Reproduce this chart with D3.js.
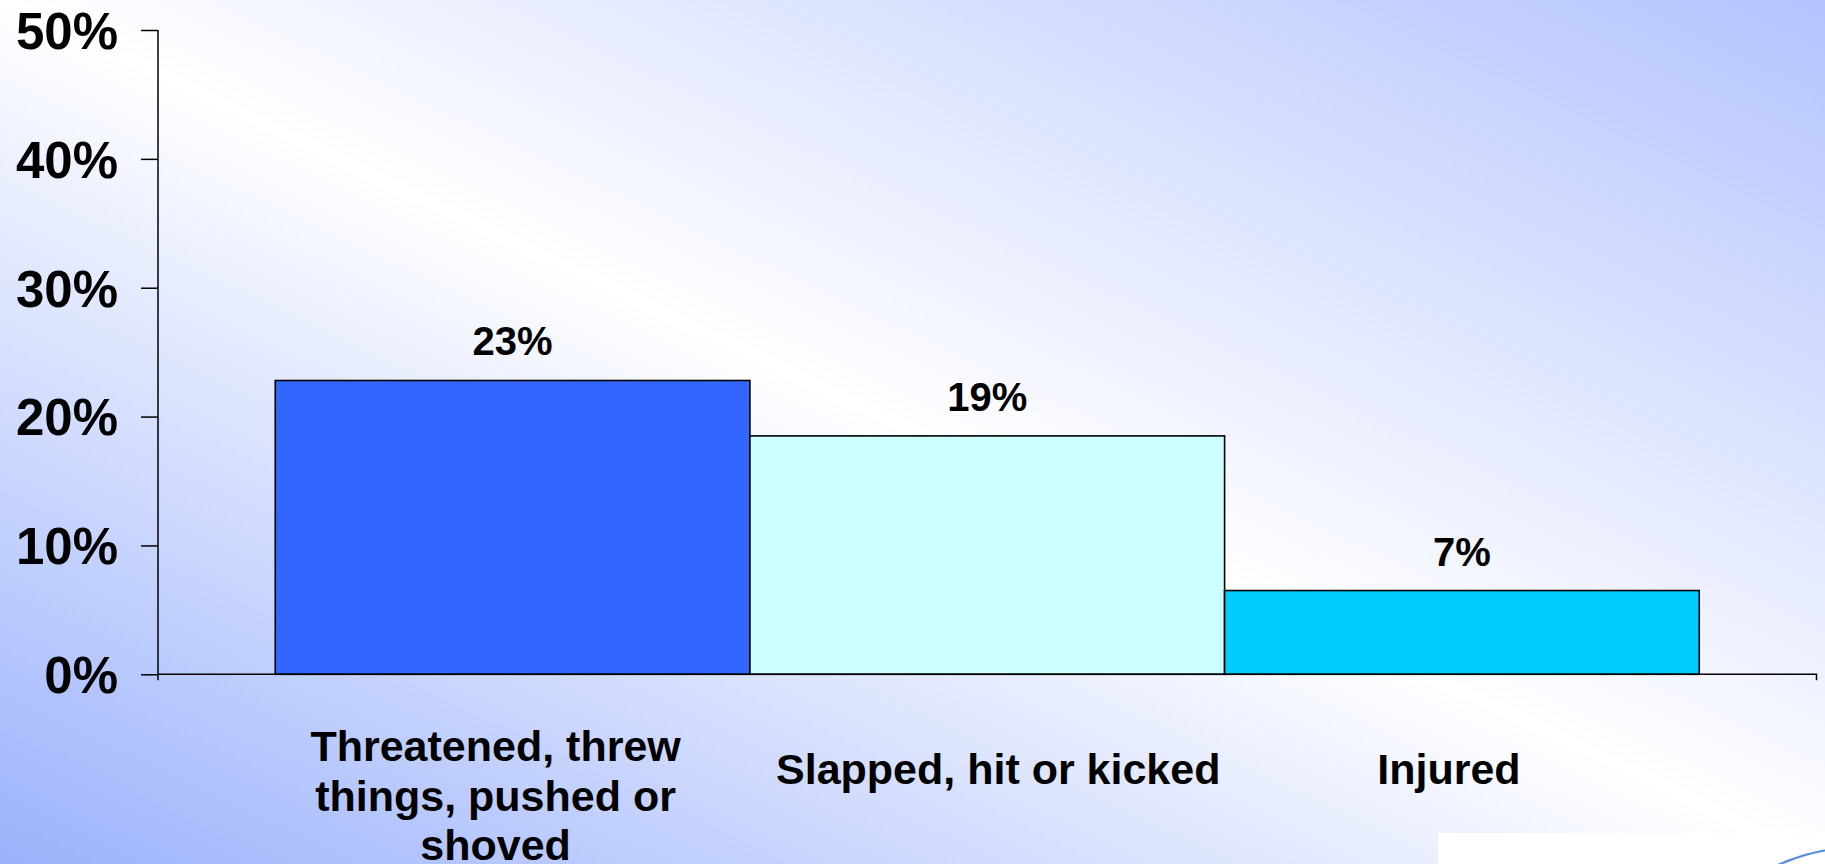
<!DOCTYPE html>
<html>
<head>
<meta charset="utf-8">
<script src="https://cdn.jsdelivr.net/npm/d3@7"></script>
<style>
  html, body { margin: 0; padding: 0; overflow: hidden; }
  svg { display: block; }
  text { font-family: "Liberation Sans", Arial, Helvetica, sans-serif; font-weight: bold; fill: #000; }
</style>
</head>
<body>
<script>
// ---- data ----
const categories = ["Threatened, threw things, pushed or shoved", "Slapped, hit or kicked", "Injured"];
const values = [22.8, 18.5, 6.5];
const valueLabels = ["23%", "19%", "7%"];
const barColors = ["#3366ff", "#ccffff", "#00ccff"];
const yTicks = [0, 10, 20, 30, 40, 50];
const yTickLabels = ["0%", "10%", "20%", "30%", "40%", "50%"];

// ---- layout ----
const W = 1825, H = 864;
const svg = d3.select("body").append("svg").attr("width", W).attr("height", H);

// background gradient
const defs = svg.append("defs");
const g = defs.append("linearGradient").attr("id", "bg")
  .attr("x1", 0).attr("y1", 1).attr("x2", 1).attr("y2", 0);
g.append("stop").attr("offset", "0%").attr("stop-color", "#9bb2fc");
g.append("stop").attr("offset", "50%").attr("stop-color", "#ffffff");
g.append("stop").attr("offset", "100%").attr("stop-color", "#b3c3fe");
svg.append("rect").attr("width", W).attr("height", H).attr("fill", "url(#bg)");

// white corner panel with arc (decoration)
svg.append("rect").attr("x", 1438).attr("y", 833).attr("width", W - 1438).attr("height", H - 833).attr("fill", "#ffffff");
svg.append("circle").attr("cx", 1862).attr("cy", 1052).attr("r", 205)
  .attr("fill", "none").attr("stroke", "#5b8fd8").attr("stroke-width", 2.2);

const x = d3.scaleBand().domain(categories).range([158, 1816.5]).paddingInner(0).paddingOuter(0.247);
const y = d3.scaleLinear().domain([0, 50]).range([674.3, 30]);

// bars
svg.append("g").selectAll("rect").data(categories).join("rect")
  .attr("x", d => x(d))
  .attr("y", (d, i) => y(values[i]))
  .attr("width", x.bandwidth())
  .attr("height", (d, i) => y(0) - y(values[i]))
  .attr("fill", (d, i) => barColors[i])
  .attr("stroke", "#000").attr("stroke-width", 1.6);

// y axis
const yAxis = d3.axisLeft(y).tickValues(yTicks).tickSize(17).tickPadding(23)
  .tickFormat((d, i) => yTickLabels[i]);
const ya = svg.append("g").attr("transform", "translate(158,0)").call(yAxis);
ya.select(".domain").attr("d", `M0,${y(50)}V${y(0) + 6}`).attr("stroke", "#000").attr("stroke-width", 1.5);
ya.selectAll(".tick line").attr("stroke", "#000").attr("stroke-width", 1.5);
ya.selectAll(".tick text").style("font-size", "51px").style("font-weight", "bold")
  .attr("font-family", null).attr("dy", "0.36em");

// x axis line
const x0 = x.range()[0], x1 = x.range()[1];
svg.append("path").attr("d", `M${x0},${y(0)}H${x1}V${y(0) + 6}`)
  .attr("fill", "none").attr("stroke", "#000").attr("stroke-width", 1.5);

// value labels
svg.append("g").selectAll("text").data(categories).join("text")
  .attr("x", d => x(d) + x.bandwidth() / 2)
  .attr("y", (d, i) => y(values[i]) - 25)
  .attr("text-anchor", "middle")
  .style("font-size", "40px")
  .text((d, i) => valueLabels[i]);

// category labels with wrapping
const labelShift = [-17, 11, -13];
const lineH = 49.5;
const catG = svg.append("g");
categories.forEach((c, i) => {
  const t = catG.append("text").attr("text-anchor", "middle").style("font-size", "43px");
  const words = c.split(" ");
  const lines = [];
  let cur = [];
  const probe = t.append("tspan");
  words.forEach(w => {
    const test = cur.concat([w]).join(" ");
    probe.text(test);
    if (probe.node().getComputedTextLength() > x.bandwidth() - 4 && cur.length) {
      lines.push(cur.join(" "));
      cur = [w];
    } else {
      cur.push(w);
    }
  });
  if (cur.length) lines.push(cur.join(" "));
  probe.remove();
  const cx = x(c) + x.bandwidth() / 2 + labelShift[i];
  const y0 = y(0) + 110 - (lines.length - 1) * 11.5;
  lines.forEach((ln, k) => {
    t.append("tspan").attr("x", cx).attr("y", y0 + k * lineH).text(ln);
  });
});
</script>
</body>
</html>
